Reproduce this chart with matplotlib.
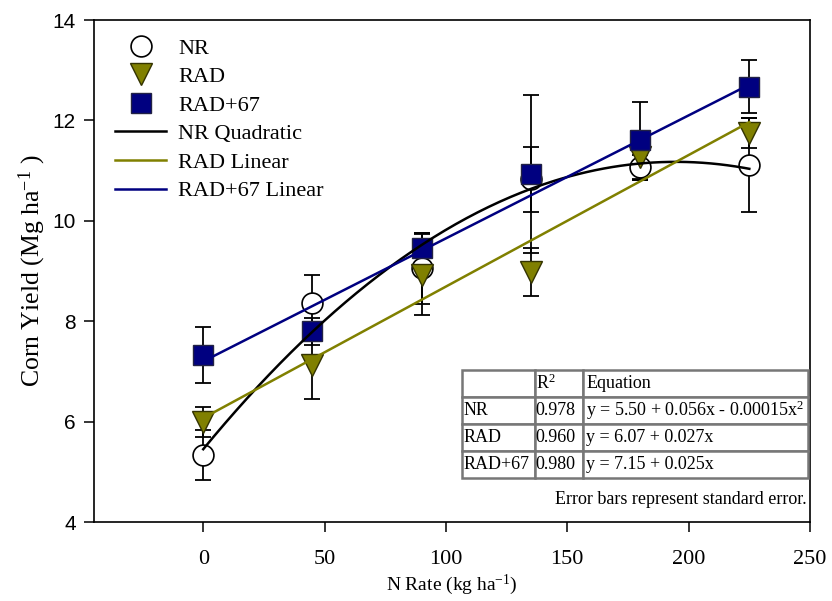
import matplotlib
matplotlib.use("Agg")
import matplotlib.pyplot as plt
import numpy as np
from matplotlib.lines import Line2D

plt.rcParams['font.family'] = ['Liberation Serif', 'DejaVu Serif']
plt.rcParams['mathtext.fontset'] = 'custom'
plt.rcParams['mathtext.rm'] = 'Liberation Serif'

# ---- data ----
n_rate = [0, 45, 90, 135, 180, 225]
nr_yield = [5.33, 8.36, 9.05, 10.83, 11.07, 11.11]
nr_se = [0.50, 0.56, 0.70, 0.65, 0.25, 0.93]
rad_yield = [5.99, 7.13, 8.93, 8.98, 11.27, 11.75]
rad_se = [0.30, 0.68, 0.80, 0.47, 0.45, 0.30]
rad67_yield = [7.32, 7.80, 9.45, 10.93, 11.60, 12.67]
rad67_se = [0.56, 0.27, 0.30, 1.58, 0.76, 0.53]

nr_quad = [5.45, 0.0588, -0.000151]   # a, b, c
rad_lin = [6.07, 0.0262]
rad67_lin = [7.20, 0.0245]

table_rows = ['NR', 'RAD', 'RAD+67']
table_r2 = ['0.978', '0.960', '0.980']
table_eq = ['y = 5.50 + 0.056x - 0.00015x$\\mathregular{^2}$',
            'y = 6.07 + 0.027x',
            'y = 7.15 + 0.025x']

olive = '#808000'
navy = '#000080'

fig = plt.figure(figsize=(8.32, 6.01), dpi=100)
ax = fig.add_axes([94/832, 1-522/601, (810-94)/832, (522-20)/601])

ebkw = dict(fmt='none', ecolor='black', elinewidth=1.3, capsize=6, capthick=1.3)
ax.errorbar(n_rate, nr_yield, yerr=nr_se, zorder=2, **ebkw)
ax.errorbar(n_rate, rad_yield, yerr=rad_se, zorder=2, **ebkw)
ax.errorbar(n_rate, rad67_yield, yerr=rad67_se, zorder=2, **ebkw)

ax.plot(n_rate, nr_yield, 'o', ms=15, mfc='white', mec='black', mew=1.2, zorder=3)
ax.plot(n_rate, rad_yield, 'v', ms=16, mfc=olive, mec='#333300', mew=1.0, zorder=4)
ax.plot(n_rate, rad67_yield, 's', ms=14, mfc=navy, mec='#222244', mew=1.0, zorder=5)

xs = np.linspace(n_rate[0], n_rate[-1], 200)
ax.plot(xs, nr_quad[0] + nr_quad[1]*xs + nr_quad[2]*xs**2, color='black', lw=1.8, zorder=6)
ax.plot(xs, rad_lin[0] + rad_lin[1]*xs, color=olive, lw=1.8, zorder=6)
ax.plot(xs, rad67_lin[0] + rad67_lin[1]*xs, color=navy, lw=1.8, zorder=6)

ax.set_xlim(-45, 250)
ax.set_ylim(4, 14)
ax.set_xticks([0, 50, 100, 150, 200, 250])
ax.set_yticks([4, 6, 8, 10, 12, 14])
ax.tick_params(axis='x', direction='out', length=7, width=1.1, labelsize=16, pad=13)
ax.tick_params(axis='y', direction='out', length=7, width=1.1, labelsize=15, pad=6)
for lab in ax.get_yticklabels():
    lab.set_family(['Liberation Sans', 'DejaVu Sans'])
for sp in ax.spines.values():
    sp.set_linewidth(1.2)

ax.set_xlabel('N Rate (kg ha$\\mathregular{^{-1}}$)', fontsize=14, labelpad=3)
ax.set_ylabel('Corn Yield (Mg ha$\\mathregular{^{-1}}$ )', fontsize=18.5, labelpad=3)

handles = [
    Line2D([], [], ls='none', marker='o', ms=15, mfc='white', mec='black', mew=1.2),
    Line2D([], [], ls='none', marker='v', ms=16, mfc=olive, mec='#333300', mew=1.0),
    Line2D([], [], ls='none', marker='s', ms=14, mfc=navy, mec='#222244', mew=1.0),
    Line2D([], [], color='black', lw=1.8),
    Line2D([], [], color=olive, lw=1.8),
    Line2D([], [], color=navy, lw=1.8),
]
labels = ['NR', 'RAD', 'RAD+67', 'NR Quadratic', 'RAD Linear', 'RAD+67 Linear']
ax.legend(handles, labels, loc='upper left', bbox_to_anchor=(115/832, 1-38/601),
          bbox_transform=fig.transFigure, frameon=False, borderpad=0, borderaxespad=0,
          fontsize=16, handlelength=2.3, handletextpad=0.55, labelspacing=0.36)

cell_text = [['', 'R$\\mathregular{^2}$', 'Equation']]
for r, r2, eq in zip(table_rows, table_r2, table_eq):
    cell_text.append([r, r2, eq])
x0 = (462-94)/716
x1 = (808-94)/716
y0 = (522-478)/502
y1 = (522-370)/502
tbl = ax.table(cellText=cell_text, cellLoc='left',
               colWidths=[73/346, 48/346, 225/346],
               bbox=[x0, y0, x1-x0, y1-y0], zorder=7)
tbl.auto_set_font_size(False)
for (r, c), cell in tbl.get_celld().items():
    cell.set_fontsize(13)
    cell.set_edgecolor('#777777')
    cell.set_linewidth(1.8)
    cell.set_facecolor('white')
    cell.PAD = 0.015
    cell.get_text().set_family(['Liberation Serif', 'DejaVu Serif'])

ax.text(0.995, 0.028, 'Error bars represent standard error.', transform=ax.transAxes,
        ha='right', va='bottom', fontsize=13)

fig.savefig('out.png', dpi=100)
